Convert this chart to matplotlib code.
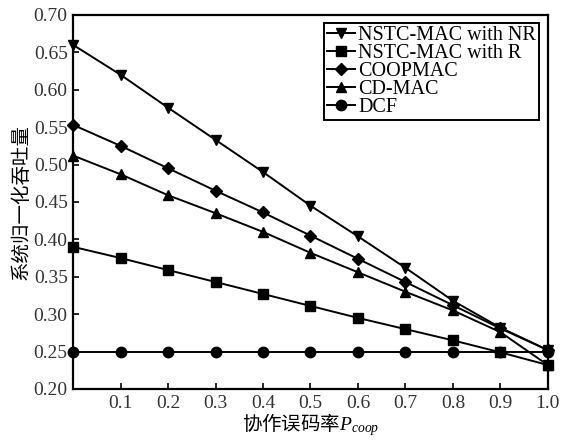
import matplotlib
matplotlib.use("Agg")
import matplotlib.pyplot as plt

# error rate of the cooperative link
p_coop = [0.0, 0.1, 0.2, 0.3, 0.4, 0.5, 0.6, 0.7, 0.8, 0.9, 1.0]

nstc_nr = [0.660, 0.620, 0.576, 0.533, 0.490, 0.445, 0.404, 0.362, 0.318, 0.282, 0.252]
nstc_r = [0.390, 0.375, 0.359, 0.343, 0.327, 0.311, 0.295, 0.280, 0.265, 0.249, 0.232]
coopmac = [0.553, 0.525, 0.495, 0.465, 0.436, 0.405, 0.374, 0.343, 0.312, 0.281, 0.252]
cdmac = [0.512, 0.487, 0.459, 0.435, 0.410, 0.382, 0.356, 0.330, 0.305, 0.276, 0.232]
dcf = [0.25] * 11

series = [
    ("NSTC-MAC with NR", nstc_nr, "v"),
    ("NSTC-MAC with R", nstc_r, "s"),
    ("COOPMAC", coopmac, "D"),
    ("CD-MAC", cdmac, "^"),
    ("DCF", dcf, "o"),
]

serif = "Liberation Serif"
cjk = ["Noto Sans CJK SC", "DejaVu Sans"]
plt.rcParams["mathtext.fontset"] = "custom"
plt.rcParams["mathtext.it"] = "Liberation Serif:italic"
plt.rcParams["mathtext.rm"] = "Liberation Serif"

fig = plt.figure(figsize=(5.63, 4.41), dpi=100)
ax = fig.add_axes([0.13, 0.118, 0.843, 0.848])

for name, vals, mk in series:
    ms = 6.5 if mk == "D" else 7.5
    ax.plot(p_coop, vals, color="black", lw=1.4, marker=mk, ms=ms, label=name,
            clip_on=False, zorder=3)

ax.set_xlim(0, 1.0)
ax.set_ylim(0.20, 0.70)
ax.set_xticks([0.1, 0.2, 0.3, 0.4, 0.5, 0.6, 0.7, 0.8, 0.9, 1.0])
ax.set_xticklabels(["0.1", "0.2", "0.3", "0.4", "0.5", "0.6", "0.7", "0.8", "0.9", "1.0"])
ax.set_yticks([0.20, 0.25, 0.30, 0.35, 0.40, 0.45, 0.50, 0.55, 0.60, 0.65, 0.70])
ax.set_yticklabels([f"{v:.2f}" for v in ax.get_yticks()])
ax.tick_params(direction="in", length=4, width=1.2, labelsize=14, pad=4)
for lab in ax.get_xticklabels() + ax.get_yticklabels():
    lab.set_fontfamily(serif)
    lab.set_color("#333333")
for sp in ax.spines.values():
    sp.set_linewidth(1.6)

ax.set_ylabel("系统归一化吞吐量", family=cjk, fontsize=14, labelpad=1)
ax.set_xlabel(r"协作误码率$P_{coop}$", family=cjk, fontsize=14, labelpad=0)

leg = ax.legend(loc="upper right", bbox_to_anchor=(0.99, 0.99), fancybox=False,
                edgecolor="black", framealpha=1, borderpad=0.15, labelspacing=-0.05,
                handlelength=1.4, handletextpad=0.15, borderaxespad=0.2,
                prop={"family": serif, "size": 14.5})
leg.get_frame().set_linewidth(1.4)

fig.savefig("out.png", dpi=100)
